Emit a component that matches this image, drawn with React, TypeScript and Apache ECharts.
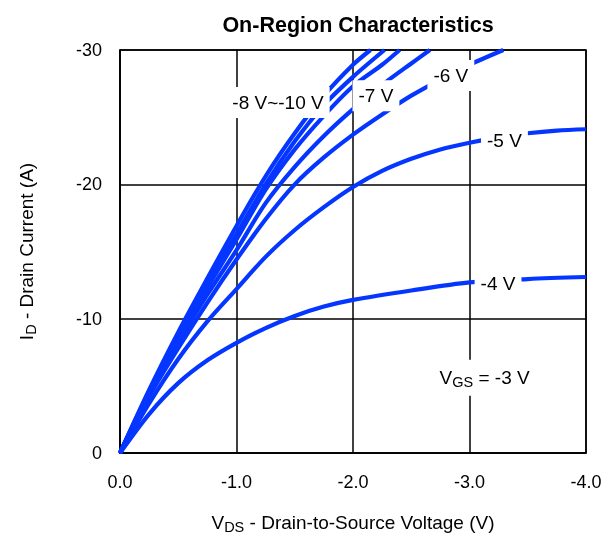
import React, { useEffect, useRef } from 'react';
import * as echarts from 'echarts';

const FONT = '"Liberation Sans", Arial, Helvetica, sans-serif';
const BLUE = '#0536ff';

const TITLE = 'On-Region Characteristics';

// Drain current curves, [V_DS (V), I_D (A)], one per V_GS
const curveNames = ['-10 V', '-9 V', '-8 V', '-7 V', '-6 V', '-5 V', '-4 V'];
const vgs10 = [[0, 0], [-0.25, -4.7], [-0.5, -9.0], [-0.75, -13.0], [-1, -16.9], [-1.25, -20.6], [-1.5, -23.8], [-1.75, -26.6], [-2, -28.9], [-2.15, -30]];
const vgs9 = [[0, 0], [-0.25, -4.6], [-0.5, -8.8], [-0.75, -12.7], [-1, -16.3], [-1.25, -20.0], [-1.5, -23.2], [-1.75, -25.9], [-2, -28.0], [-2.27, -30]];
const vgs8 = [[0, 0], [-0.25, -4.5], [-0.5, -8.5], [-0.75, -12.3], [-1, -15.9], [-1.25, -19.6], [-1.5, -22.6], [-1.75, -25.1], [-2, -27.3], [-2.25, -28.9], [-2.4, -30]];
const vgs7 = [[0, 0], [-0.25, -4.3], [-0.5, -8.2], [-0.75, -11.8], [-1, -15.1], [-1.25, -18.6], [-1.5, -21.3], [-1.75, -23.6], [-2, -25.6], [-2.25, -27.4], [-2.5, -29.0], [-2.66, -30]];
const vgs6 = [[0, 0], [-0.25, -4.2], [-0.5, -7.8], [-0.75, -11.2], [-1, -14.4], [-1.25, -17.4], [-1.5, -20.0], [-1.75, -22.0], [-2, -23.7], [-2.25, -25.2], [-2.5, -26.6], [-2.75, -27.8], [-3, -28.9], [-3.29, -30]];
const vgs5 = [[0, 0], [-0.25, -3.7], [-0.5, -7.0], [-0.75, -9.8], [-1, -12.2], [-1.25, -14.6], [-1.5, -16.6], [-1.75, -18.3], [-2, -19.8], [-2.25, -21.0], [-2.5, -21.9], [-2.75, -22.6], [-3, -23.1], [-3.25, -23.5], [-3.5, -23.8], [-3.75, -24.0], [-4, -24.1]];
const vgs4 = [[0, 0], [-0.25, -2.9], [-0.5, -5.2], [-0.75, -6.9], [-1, -8.2], [-1.25, -9.3], [-1.5, -10.2], [-1.75, -10.9], [-2, -11.4], [-2.5, -12.1], [-3, -12.7], [-3.5, -12.95], [-4, -13.1]];
const curves = [vgs10, vgs9, vgs8, vgs7, vgs6, vgs5, vgs4];

// Axis ticks
const xMin = -4;
const xMax = 0;
const xStep = 1;
const yMin = -30;
const yMax = 0;
const yStep = 10;

// Annotation labels and their anchor points (data units)
const labelTexts = ['-8 V~-10 V', '-7 V', '-6 V', '-5 V', '-4 V', '{m|V}{s|GS}{m| = -3 V}'];
const labelV = [-1.356, -2.197, -2.84, -3.30, -3.245, -3.13];
const labelI = [-26.1, -26.6, -28.1, -23.3, -12.6, -5.6];

const X_NAME = '{m|V}{s|DS}{m| - Drain-to-Source Voltage (V)}';
const Y_NAME = '{m|I}{s|D}{m| - Drain Current (A)}';

const rich = {
  m: { fontSize: 19, fontFamily: FONT, color: '#000' },
  s: { fontSize: 14.5, fontFamily: FONT, color: '#000', padding: [9, 0, 0, 0] },
};

export default function App() {
  const ref = useRef<HTMLDivElement>(null);
  useEffect(() => {
    if (!ref.current) return;
    const chart = echarts.init(ref.current, undefined, { renderer: 'svg' });
    const lineSeries = curves.map((c, i) => ({
      name: curveNames[i],
      type: 'line',
      data: c,
      showSymbol: false,
      symbol: 'none',
      smooth: 0.3,
      clip: true,
      lineStyle: { color: BLUE, width: 4.2 },
      z: 2,
      silent: true,
    }));
    chart.setOption({
      animation: false,
      title: {
        text: TITLE,
        left: 353,
        top: 9,
        textAlign: 'center',
        textStyle: { fontSize: 21.5, fontWeight: 'bold', fontFamily: FONT, color: '#000' },
      },
      grid: { left: 120, right: 22, top: 50, bottom: 82, show: true, borderColor: '#000', borderWidth: 1.5 },
      xAxis: {
        type: 'value',
        min: xMin,
        max: xMax,
        interval: xStep,
        inverse: true,
        axisLine: { show: true, onZero: false, lineStyle: { color: '#000', width: 1.5 } },
        axisTick: { show: false },
        splitLine: { show: true, lineStyle: { color: '#000', width: 1.5 } },
        axisLabel: {
          margin: 20,
          fontSize: 18,
          color: '#000',
          fontFamily: FONT,
          formatter: (v: number) => (v === 0 ? '0.0' : v.toFixed(1)),
        },
        name: X_NAME,
        nameLocation: 'middle',
        nameGap: 57,
        nameTextStyle: { fontSize: 19, fontFamily: FONT, color: '#000', rich },
      },
      yAxis: {
        type: 'value',
        min: yMin,
        max: yMax,
        interval: yStep,
        inverse: true,
        axisLine: { show: true, onZero: false, lineStyle: { color: '#000', width: 1.5 } },
        axisTick: { show: false },
        splitLine: { show: true, lineStyle: { color: '#000', width: 1.5 } },
        axisLabel: {
          margin: 18,
          fontSize: 18,
          color: '#000',
          fontFamily: FONT,
          formatter: (v: number) => (v === 0 ? '0' : String(v)),
        },
        name: Y_NAME,
        nameLocation: 'middle',
        nameGap: 82,
        nameTextStyle: { fontSize: 19, fontFamily: FONT, color: '#000', rich },
      },
      series: [
        ...lineSeries,
        {
          type: 'scatter',
          data: labelV.map((v, i) => [v, labelI[i], labelTexts[i]]),
          symbolSize: 1,
          itemStyle: { color: 'rgba(0,0,0,0)', opacity: 1 },
          silent: true,
          z: 10,
          label: {
            show: true,
            position: 'inside',
            formatter: (p: any) => p.data[2],
            backgroundColor: '#fff',
            padding: [6, 6],
            fontSize: 19,
            fontFamily: FONT,
            color: '#000',
            opacity: 1,
            rich,
          },
        },
      ],
    });
    return () => chart.dispose();
  }, []);
  return <div ref={ref} style={{ position: 'fixed', left: 0, top: 0, width: 608, height: 539 }} />;
}
